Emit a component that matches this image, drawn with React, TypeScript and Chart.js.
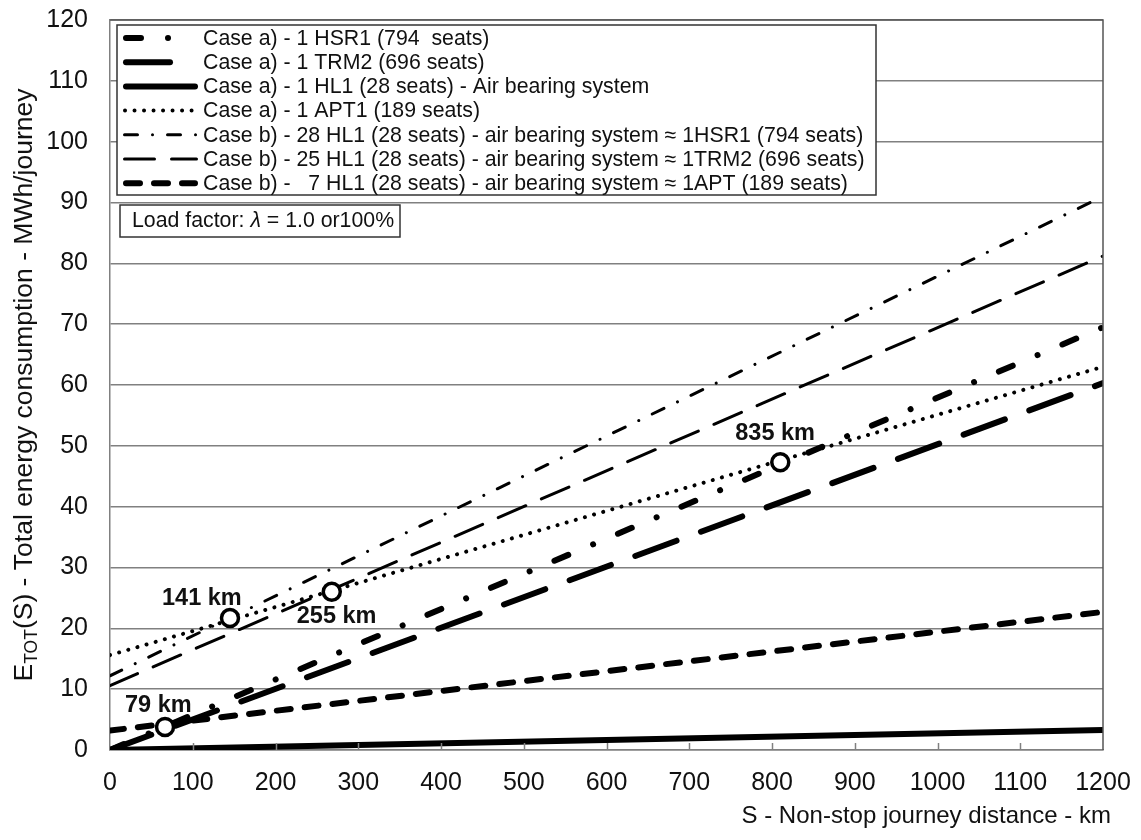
import React, { useEffect, useRef } from "react";
import { Chart, registerables } from "chart.js";

Chart.register(...registerables);

const FONT = "'Liberation Sans', Arial, Helvetica, sans-serif";

// ---- data ----
const xEnds = [0, 1200]; // journey distance S, km
const xTickStep = 100;
const yTickStep = 10;
const xMax = 1200;
const yMax = 120;

const seriesLabels = [
  "Case a) - 1 HSR1 (794  seats)",
  "Case a) - 1 TRM2 (696 seats)",
  "Case a) - 1 HL1 (28 seats) - Air bearing system",
  "Case a) - 1 APT1 (189 seats)",
  "Case b) - 28 HL1 (28 seats) - air bearing system \u2248 1HSR1 (794 seats)",
  "Case b) - 25 HL1 (28 seats) - air bearing system \u2248 1TRM2 (696 seats)",
  "Case b) -   7 HL1 (28 seats) - air bearing system \u2248 1APT (189 seats)",
];

// E_TOT (MWh/journey) at S = 0 and S = 1200 km
const hsr1 = [0, 69.5];
const trm2 = [0, 60.3];
const hl1 = [0, 3.3];
const apt1 = [15.6, 63.0];
const hl1x28 = [12.2, 91.0];
const hl1x25 = [10.6, 81.2];
const hl1x7 = [3.2, 22.7];

// break-even markers
const crossKm = [66.5, 145, 268, 810];
const crossE = [3.8, 21.7, 26.0, 47.3];
const crossLabels = ["79 km", "141 km", "255 km", "835 km"];

const loadFactorPre = "Load factor: ";
const loadFactorSym = "\u03bb";
const loadFactorPost = " = 1.0 or100%";

const xTitle = "S - Non-stop journey distance - km";
const yTitleMain = "E";
const yTitleSub = "TOT";
const yTitleRest = "(S) - Total energy consumption - MWh/journey";

// ---- styles ----
const seriesStyles = [
  { width: 6, dash: [15, 27, 0.01, 27] },
  { width: 6, dash: [44, 26] },
  { width: 6, dash: [] as number[] },
  { width: 4, dash: [0.01, 9.5] },
  { width: 3, dash: [13, 15, 0.01, 15] },
  { width: 3, dash: [30, 17] },
  { width: 6, dash: [14, 14] },
];
const labelOffsets = [
  [-40, -15],
  [-68, -13],
  [-35, 31],
  [-45, -22],
];

const seriesValues = [hsr1, trm2, hl1, apt1, hl1x28, hl1x25, hl1x7];

const zeroPad = (s: any) => {
  s.paddingTop = 0;
  s.paddingBottom = 0;
  s.paddingLeft = 0;
  s.paddingRight = 0;
};

const overlayPlugin = {
  id: "overlay",
  afterDraw(chart: any) {
    const ctx: CanvasRenderingContext2D = chart.ctx;
    const { left, right, top, bottom } = chart.chartArea;
    const xs = chart.scales.x;
    const ys = chart.scales.y;
    ctx.save();

    // frame top/right
    ctx.strokeStyle = "#555";
    ctx.lineWidth = 1.5;
    ctx.setLineDash([]);
    ctx.beginPath();
    ctx.moveTo(left, top);
    ctx.lineTo(right, top);
    ctx.lineTo(right, bottom);
    ctx.stroke();

    // inward tick marks on x axis
    ctx.strokeStyle = "#808080";
    for (let v = xTickStep; v < xMax; v += xTickStep) {
      const px = Math.round(xs.getPixelForValue(v)) + 0.5;
      ctx.beginPath();
      ctx.moveTo(px, bottom);
      ctx.lineTo(px, bottom - 7);
      ctx.stroke();
    }

    // marker labels
    ctx.fillStyle = "#111";
    ctx.font = `bold 23.5px ${FONT}`;
    ctx.textAlign = "left";
    ctx.textBaseline = "alphabetic";
    crossLabels.forEach((t, i) => {
      const px = xs.getPixelForValue(crossKm[i]);
      const py = ys.getPixelForValue(crossE[i]);
      ctx.fillText(t, px + labelOffsets[i][0], py + labelOffsets[i][1]);
    });

    // legend box
    const lx = left + 7;
    const ly = top + 5;
    const lw = 759;
    const lh = 170;
    ctx.fillStyle = "#fff";
    ctx.fillRect(lx, ly, lw, lh);
    ctx.strokeStyle = "#333";
    ctx.lineWidth = 1.5;
    ctx.strokeRect(lx, ly, lw, lh);
    chart.data.datasets.forEach((ds: any, i: number) => {
      if (i >= seriesLabels.length) return;
      const st = seriesStyles[i];
      const cy = ly + 13 + i * 24.2;
      ctx.save();
      ctx.strokeStyle = "#000";
      ctx.lineWidth = st.width;
      ctx.lineCap = "round";
      ctx.setLineDash(st.dash);
      ctx.beginPath();
      ctx.moveTo(lx + 6 + st.width / 2, cy);
      ctx.lineTo(lx + 81 - st.width / 2, cy);
      ctx.stroke();
      ctx.restore();
      ctx.fillStyle = "#111";
      ctx.font = `21.3px ${FONT}`;
      ctx.textBaseline = "middle";
      ctx.textAlign = "left";
      ctx.fillText(ds.label, lx + 86, cy + 1);
    });

    // load factor box
    const bx = left + 10;
    const by = top + 185;
    ctx.fillStyle = "#fff";
    ctx.fillRect(bx, by, 280, 32);
    ctx.strokeStyle = "#333";
    ctx.lineWidth = 1.5;
    ctx.strokeRect(bx, by, 280, 32);
    ctx.fillStyle = "#111";
    ctx.textBaseline = "alphabetic";
    ctx.font = `21.3px ${FONT}`;
    let tx = bx + 12;
    const tb = by + 22;
    ctx.fillText(loadFactorPre, tx, tb);
    tx += ctx.measureText(loadFactorPre).width;
    ctx.font = `italic 21.3px ${FONT}`;
    ctx.fillText(loadFactorSym, tx, tb);
    tx += ctx.measureText(loadFactorSym).width;
    ctx.font = `21.3px ${FONT}`;
    ctx.fillText(loadFactorPost, tx, tb);

    // x title (right aligned)
    ctx.font = `24px ${FONT}`;
    ctx.textAlign = "right";
    ctx.fillText(xTitle, right + 8, 823);

    // y title (rotated, with subscript)
    const yFs = 26.5;
    const ySub = 17.5;
    ctx.font = `${yFs}px ${FONT}`;
    const wMain = ctx.measureText(yTitleMain).width;
    const wRest = ctx.measureText(yTitleRest).width;
    ctx.font = `${ySub}px ${FONT}`;
    const wSub = ctx.measureText(yTitleSub).width;
    const total = wMain + wSub + wRest;
    const cyT = (top + bottom) / 2;
    ctx.translate(32, cyT);
    ctx.rotate(-Math.PI / 2);
    ctx.textAlign = "left";
    let sx = -total / 2;
    ctx.font = `${yFs}px ${FONT}`;
    ctx.fillText(yTitleMain, sx, 0);
    sx += wMain;
    ctx.font = `${ySub}px ${FONT}`;
    ctx.fillText(yTitleSub, sx, 5);
    sx += wSub;
    ctx.font = `${yFs}px ${FONT}`;
    ctx.fillText(yTitleRest, sx, 0);

    ctx.restore();
  },
};

export default function App() {
  const canvasRef = useRef<HTMLCanvasElement | null>(null);

  useEffect(() => {
    if (!canvasRef.current) return;
    const lineSets = seriesValues.map((vals, i) => ({
      type: "line",
      label: seriesLabels[i],
      data: xEnds.map((x, k) => ({ x, y: vals[k] })),
      borderColor: "#000",
      backgroundColor: "#000",
      borderWidth: seriesStyles[i].width,
      borderDash: seriesStyles[i].dash,
      borderCapStyle: "round",
      pointRadius: 0,
      tension: 0,
      fill: false,
      order: 2,
    }));
    const markerSet = {
      type: "scatter",
      label: "markers",
      data: crossKm.map((x, i) => ({ x, y: crossE[i] })),
      pointRadius: 8.5,
      pointBorderWidth: 3.5,
      borderColor: "#000",
      backgroundColor: "#fff",
      pointBackgroundColor: "#fff",
      pointBorderColor: "#000",
      showLine: false,
      order: 0,
    };
    const chart = new Chart(canvasRef.current, {
      type: "line",
      data: { datasets: [...lineSets, markerSet] as any },
      options: {
        animation: false,
        responsive: false,
        layout: { padding: { top: 20, right: 38, left: 0, bottom: 0 } },
        plugins: {
          legend: { display: false },
          tooltip: { enabled: false },
        },
        scales: {
          x: {
            type: "linear",
            min: 0,
            max: xMax,
            grid: { display: false, drawTicks: false },
            border: { display: true, color: "#808080", width: 1.5 },
            ticks: {
              stepSize: xTickStep,
              color: "#111",
              font: { family: FONT, size: 25 },
              padding: 18,
              maxRotation: 0,
              autoSkip: false,
              callback: (v: any) => String(v),
            },
            afterFit: (s: any) => {
              s.height = 90;
              zeroPad(s);
            },
          },
          y: {
            type: "linear",
            min: 0,
            max: yMax,
            grid: { color: "#808080", lineWidth: 1.5, drawTicks: false },
            border: { display: true, color: "#808080", width: 1.5 },
            ticks: {
              stepSize: yTickStep,
              color: "#111",
              font: { family: FONT, size: 25 },
              padding: 22,
              callback: (v: any) => String(v),
            },
            afterFit: (s: any) => {
              s.width = 110;
              zeroPad(s);
            },
          },
        },
      } as any,
      plugins: [overlayPlugin],
    });
    return () => chart.destroy();
  }, []);

  return (
    <div style={{ position: "absolute", left: 0, top: 0, width: 1141, height: 840, background: "#fff" }}>
      <canvas ref={canvasRef} width={1141} height={840} />
    </div>
  );
}
